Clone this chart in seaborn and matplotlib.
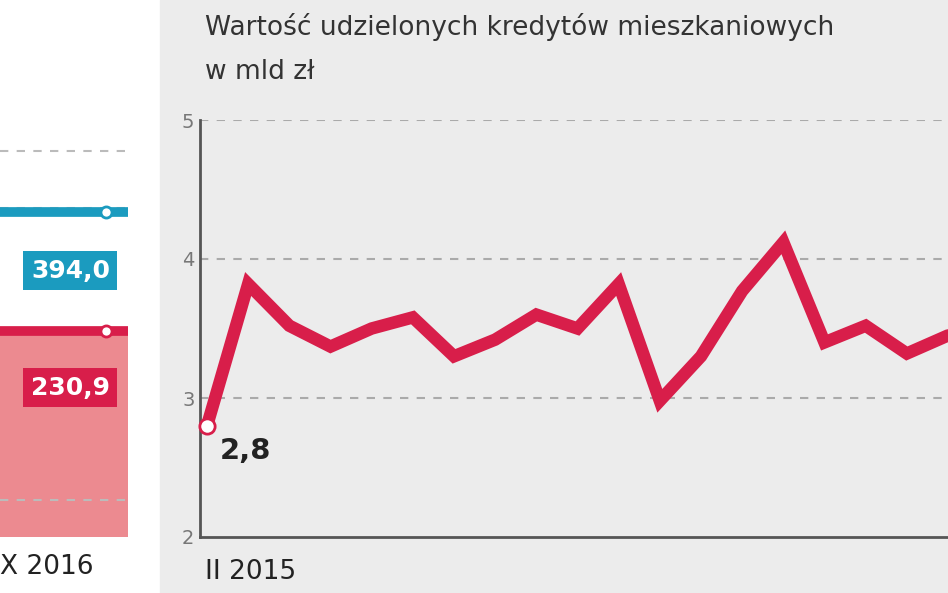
import matplotlib
matplotlib.use("Agg")
import matplotlib.pyplot as plt
from matplotlib.patches import Rectangle
import seaborn as sns
import pandas as pd

# wartość kredytów, mld zł (od II 2015)
months = list(range(19))
values = [2.8, 3.82, 3.52, 3.37, 3.5, 3.58, 3.3, 3.42, 3.6, 3.5,
          3.82, 2.98, 3.3, 3.77, 4.12, 3.4, 3.52, 3.32, 3.45]
yticks = [2, 3, 4, 5]

# lewy panel (ucięty)
left_x = [0, 1]
blue_vals = [394.0, 394.0]
red_vals = [230.9, 230.9]

sns.set_style("white")
plt.rcParams['font.family'] = ['DejaVu Sans']
RED = '#d81e4a'
BLUE = '#1b9bbf'

fig = plt.figure(figsize=(9.48, 5.93), dpi=100)
fig.patches.append(Rectangle((160/948, 0), 1, 1, transform=fig.transFigure,
                             color='#ececec', zorder=-10))

# --- prawy panel ---
ax = fig.add_axes([200/948, 56/593, 748/948, 417/593])
ax.set_zorder(2)
ax.patch.set_alpha(0)
df = pd.DataFrame({'m': months, 'v': values})
sns.lineplot(data=df, x='m', y='v', ax=ax, color=RED, lw=9, solid_joinstyle='miter')
ax.plot(0, values[0], 'o', ms=11, mfc='white', mec=RED, mew=2, zorder=5, clip_on=False)
ax.text(0.3, 2.62, '2,8', fontsize=21, fontweight='bold', color='#222', va='center')
ax.set_xlim(-0.17, 18)
ax.set_ylim(2, 5)
ax.set_yticks(yticks)
ax.set_yticklabels([str(t) for t in yticks], color='#777', fontsize=14)
ax.tick_params(axis='y', length=0, pad=4)
ax.set_xticks([])
ax.set_xlabel('')
ax.set_ylabel('')
for y in yticks[1:]:
    ax.axhline(y, color='#aaa', ls=(0, (4, 4)), lw=1.5, zorder=1)
for s in ['top', 'right']:
    ax.spines[s].set_visible(False)
ax.spines['left'].set_color('#555')
ax.spines['left'].set_linewidth(2)
ax.spines['bottom'].set_color('#555')
ax.spines['bottom'].set_linewidth(2)
fig.text(205/948, 1 - 572/593, 'II 2015', fontsize=19, color='#222', va='center')
fig.text(205/948, 1 - 27/593, 'Wartość udzielonych kredytów mieszkaniowych', fontsize=19,
         color='#333', va='center')
fig.text(205/948, 1 - 72/593, 'w mld zł', fontsize=19, color='#333', va='center')

# --- lewy panel ---
lx = fig.add_axes([0, 56/593, 128/948, 417/593])
lx.set_zorder(2)
lx.set_xlim(0, 1)
lx.set_ylim(-50, 520)
lx.fill_between(left_x, red_vals, -50, color='#ec8a90', lw=0)
sns.lineplot(x=left_x, y=blue_vals, ax=lx, color=BLUE, lw=7)
sns.lineplot(x=left_x, y=red_vals, ax=lx, color=RED, lw=7)
for v, c in [(blue_vals[-1], BLUE), (red_vals[-1], RED)]:
    lx.plot(0.83, v, 'o', ms=8, mfc='white', mec=c, mew=2, zorder=5)
lx.text(0.55, 314, '394,0', fontsize=18, fontweight='bold', color='white', ha='center',
        va='center', bbox=dict(boxstyle='square,pad=0.3', fc=BLUE, ec='none'))
lx.text(0.55, 154, '230,9', fontsize=18, fontweight='bold', color='white', ha='center',
        va='center', bbox=dict(boxstyle='square,pad=0.3', fc=RED, ec='none'))
for y in [478, 400, 0]:
    lx.axhline(y, color='#bbb', ls=(0, (4, 4)), lw=1.5, zorder=3 if y == 0 else 0)
lx.axis('off')
fig.text(0, 1 - 567/593, 'X 2016', fontsize=19, color='#222', va='center')

fig.savefig('out.png', dpi=100)
